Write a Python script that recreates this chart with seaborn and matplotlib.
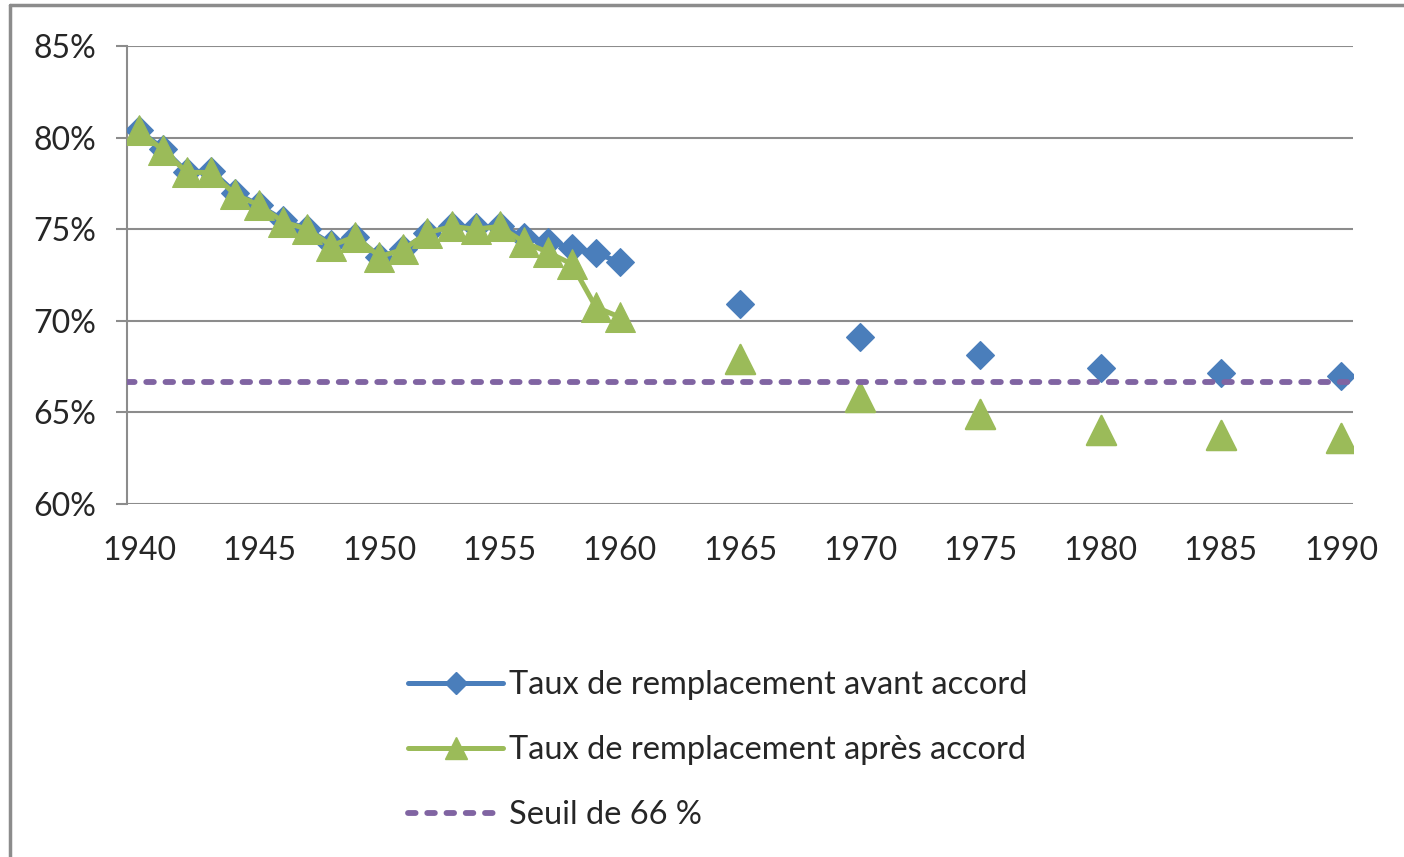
import numpy as np
import pandas as pd
import matplotlib
matplotlib.use("Agg")
import matplotlib.pyplot as plt
from matplotlib.lines import Line2D
from matplotlib.ticker import FuncFormatter
import seaborn as sns

# ---- data ----
years_annual = list(range(1940, 1961))
avant_annual = [80.4, 79.4, 78.1, 78.2, 77.0, 76.3, 75.5, 75.0, 74.2, 74.6, 73.5,
                73.9, 74.8, 75.15, 75.1, 75.15, 74.6, 74.3, 74.0, 73.7, 73.2]
apres_annual = [80.4, 79.3, 78.1, 78.1, 76.9, 76.3, 75.4, 75.0, 74.1, 74.6, 73.5,
                73.9, 74.8, 75.15, 75.0, 75.15, 74.3, 73.75, 73.1, 70.75, 70.2]
years_5 = [1965, 1970, 1975, 1980, 1985, 1990]
avant_5 = [70.9, 69.1, 68.15, 67.4, 67.15, 67.0]
apres_5 = [67.9, 65.85, 64.9, 64.05, 63.75, 63.6]
seuil = 200.0 / 3.0
labels = ["Taux de remplacement avant accord",
          "Taux de remplacement après accord",
          "Seuil de 66 %"]
xticks = [1940, 1945, 1950, 1955, 1960, 1965, 1970, 1975, 1980, 1985, 1990]
yticks = [60, 65, 70, 75, 80, 85]

BLUE = "#4A7EBB"
GREEN = "#9BBB59"
PURPLE = "#8064A2"
GRID = "#8C8C8C"
TEXT = "#262626"
DASH = (0, (1.3, 2.0))

sns.set_style("white")
plt.rcParams["font.family"] = ["Lato", "DejaVu Sans"]

fig = plt.figure(figsize=(14.04, 8.57), dpi=100)
ax = fig.add_axes([127 / 1404, 1 - 504 / 857, (1353 - 127) / 1404, (504 - 46) / 857])

df_a = pd.DataFrame({"year": years_annual, "avant": avant_annual, "apres": apres_annual})
df_5 = pd.DataFrame({"year": years_5, "avant": avant_5, "apres": apres_5})

# blue series
sns.lineplot(data=df_a, x="year", y="avant", ax=ax, color=BLUE, lw=3.6,
             marker="D", markersize=14, markeredgecolor=BLUE, legend=False, zorder=3)
sns.scatterplot(data=df_5, x="year", y="avant", ax=ax, color=BLUE, marker="D",
                s=14 ** 2, edgecolor=BLUE, legend=False, zorder=3)
# green series
sns.lineplot(data=df_a, x="year", y="apres", ax=ax, color=GREEN, lw=3.6,
             marker="^", markersize=21, markeredgecolor=GREEN, legend=False, zorder=4)
sns.scatterplot(data=df_5, x="year", y="apres", ax=ax, color=GREEN, marker="^",
                s=21 ** 2, edgecolor=GREEN, legend=False, zorder=4)
# threshold
ax.axhline(seuil, color=PURPLE, lw=4.2, ls=DASH, dash_capstyle="round", zorder=5)

ax.set_xlim(1939.5, 1990.5)
ax.set_ylim(60, 85)
ax.set_xticks(xticks)
ax.set_yticks(yticks)
ax.yaxis.set_major_formatter(FuncFormatter(lambda v, p: f"{v:.0f}%"))
ax.set_xlabel("")
ax.set_ylabel("")
ax.grid(axis="y", color=GRID, lw=1.5)
ax.grid(axis="x", visible=False)
for s in ["top", "right", "bottom"]:
    ax.spines[s].set_visible(False)
ax.spines["left"].set_color(GRID)
ax.spines["left"].set_linewidth(1.5)
ax.tick_params(axis="y", length=8, width=1.5, color=GRID, pad=14,
               labelsize=23, labelcolor=TEXT, left=True)
ax.tick_params(axis="x", length=0, pad=23, labelsize=23, labelcolor=TEXT)

handles = [
    Line2D([], [], color=BLUE, lw=3.6, marker="D", markersize=11),
    Line2D([], [], color=GREEN, lw=3.6, marker="^", markersize=16),
    Line2D([], [], color=PURPLE, lw=4.2, ls=DASH, dash_capstyle="round"),
]
leg = fig.legend(handles, labels, loc="center", bbox_to_anchor=(718 / 1404, 1 - 750 / 857),
                 frameon=False, fontsize=23.5, handlelength=2.9, handletextpad=0.2,
                 labelspacing=1.07, labelcolor=TEXT)

# outer frame
fig.add_artist(Line2D([10 / 1404, 10 / 1404], [0, 1 - 5 / 857], color="#8C8C8C",
                      lw=2.5, transform=fig.transFigure))
fig.add_artist(Line2D([10 / 1404, 1], [1 - 5 / 857, 1 - 5 / 857], color="#8C8C8C",
                      lw=2.5, transform=fig.transFigure))

fig.savefig("out.png", dpi=100)
